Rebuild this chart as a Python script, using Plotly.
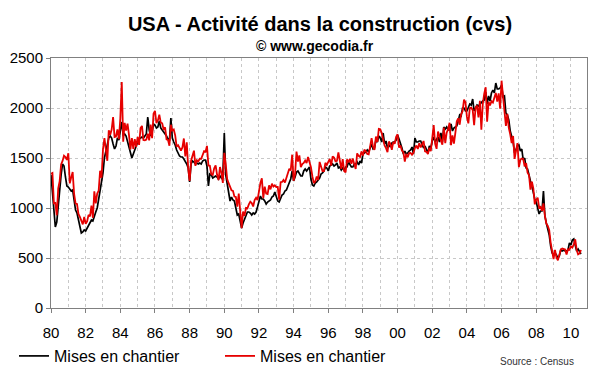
import plotly.graph_objects as go

# Monthly values (thousands, SAAR), Jan 1980 - Aug 2010, listed by year
years = list(range(1980, 2011))

black_by_year = [
    [1330, 1180, 1000, 810, 860, 1030, 1190, 1330, 1440, 1420, 1310, 1220],
    [1210, 1190, 1170, 1180, 1060, 980, 950, 880, 820, 750, 760, 780],
    [770, 800, 830, 850, 880, 870, 930, 960, 1000, 1080, 1150, 1260],
    [1350, 1500, 1560, 1620, 1700, 1720, 1700, 1640, 1590, 1620, 1700, 1680],
    [1780, 1860, 1730, 1740, 1720, 1660, 1600, 1560, 1500, 1540, 1580, 1640],
    [1660, 1690, 1700, 1710, 1700, 1720, 1740, 1910, 1780, 1720, 1760, 1840],
    [1830, 1800, 1810, 1870, 1800, 1780, 1760, 1750, 1720, 1690, 1670, 1900],
    [1700, 1660, 1630, 1580, 1540, 1520, 1510, 1510, 1490, 1470, 1440, 1400],
    [1260, 1440, 1470, 1460, 1440, 1450, 1440, 1450, 1440, 1470, 1480, 1480],
    [1420, 1220, 1340, 1330, 1300, 1310, 1320, 1310, 1290, 1320, 1300, 1330],
    [1750, 1330, 1250, 1140, 1070, 1110, 1080, 1070, 980, 930, 940, 860],
    [800, 850, 890, 920, 960, 960, 950, 930, 950, 940, 960, 1010],
    [1060, 1120, 1090, 1090, 1070, 1040, 1060, 1070, 1080, 1110, 1120, 1160],
    [1120, 1070, 1060, 1100, 1130, 1140, 1170, 1180, 1220, 1270, 1290, 1370],
    [1270, 1310, 1360, 1370, 1350, 1320, 1320, 1370, 1390, 1370, 1390, 1410],
    [1290, 1230, 1220, 1250, 1260, 1280, 1300, 1340, 1350, 1370, 1410, 1400],
    [1370, 1420, 1430, 1440, 1420, 1430, 1450, 1400, 1410, 1380, 1400, 1380],
    [1410, 1410, 1460, 1430, 1410, 1410, 1440, 1440, 1460, 1430, 1470, 1450],
    [1540, 1550, 1560, 1580, 1560, 1600, 1640, 1590, 1600, 1680, 1660, 1720],
    [1700, 1660, 1750, 1640, 1670, 1600, 1630, 1610, 1650, 1660, 1660, 1680],
    [1730, 1690, 1650, 1600, 1540, 1570, 1540, 1550, 1570, 1580, 1610, 1540],
    [1700, 1660, 1660, 1670, 1670, 1630, 1600, 1620, 1580, 1550, 1620, 1600],
    [1670, 1710, 1660, 1680, 1710, 1660, 1750, 1660, 1810, 1790, 1810, 1780],
    [1780, 1840, 1770, 1800, 1810, 1820, 1870, 1930, 1920, 2000, 2000, 1970],
    [1970, 2010, 2040, 2030, 2090, 1970, 2010, 2030, 2020, 2040, 2050, 2070],
    [2080, 2160, 2040, 2120, 2070, 2150, 2180, 2150, 2250, 2190, 2190, 2200],
    [2230, 2110, 2120, 1950, 1930, 1880, 1770, 1710, 1660, 1550, 1580, 1620],
    [1630, 1570, 1590, 1480, 1500, 1400, 1390, 1320, 1270, 1220, 1150, 1090],
    [1060, 980, 940, 970, 970, 1170, 920, 850, 800, 730, 620, 550],
    [530, 550, 530, 500, 520, 580, 570, 580, 570, 570, 580, 650],
    [630, 680, 690, 610, 570, 590, 570, 540],
]

red_by_year = [
    [1341, 1350, 1047, 1051, 927, 1196, 1269, 1436, 1471, 1523, 1510, 1482],
    [1547, 1246, 1306, 1360, 1140, 1045, 1041, 940, 911, 873, 837, 910],
    [843, 866, 931, 917, 1025, 902, 1166, 1046, 1144, 1173, 1372, 1303],
    [1586, 1699, 1606, 1472, 1776, 1733, 1785, 1910, 1710, 1715, 1785, 1688],
    [1897, 2260, 1663, 1851, 1774, 1843, 1732, 1586, 1698, 1590, 1689, 1612],
    [1711, 1632, 1800, 1821, 1680, 1676, 1684, 1743, 1676, 1834, 1698, 1942],
    [1972, 1848, 1876, 1933, 1854, 1847, 1782, 1807, 1687, 1681, 1623, 1833],
    [1774, 1784, 1726, 1614, 1628, 1594, 1575, 1605, 1695, 1515, 1656, 1400],
    [1271, 1473, 1532, 1573, 1421, 1478, 1467, 1493, 1492, 1522, 1569, 1563],
    [1621, 1425, 1422, 1339, 1331, 1397, 1427, 1332, 1279, 1410, 1351, 1251],
    [1551, 1437, 1289, 1248, 1212, 1177, 1171, 1115, 1110, 1014, 1145, 969],
    [798, 965, 921, 1001, 996, 1036, 1063, 1049, 1015, 1079, 1103, 1079],
    [1176, 1250, 1297, 1099, 1214, 1145, 1139, 1226, 1186, 1244, 1214, 1227],
    [1210, 1210, 1083, 1258, 1260, 1280, 1254, 1300, 1343, 1392, 1376, 1533],
    [1272, 1337, 1564, 1465, 1526, 1409, 1439, 1450, 1474, 1450, 1511, 1455],
    [1407, 1316, 1249, 1267, 1314, 1281, 1461, 1416, 1369, 1369, 1452, 1431],
    [1467, 1491, 1424, 1516, 1504, 1467, 1472, 1557, 1475, 1392, 1489, 1370],
    [1355, 1486, 1457, 1492, 1442, 1494, 1437, 1390, 1546, 1520, 1510, 1566],
    [1525, 1584, 1567, 1540, 1536, 1641, 1698, 1614, 1582, 1715, 1660, 1792],
    [1788, 1749, 1670, 1626, 1598, 1558, 1664, 1641, 1582, 1660, 1642, 1711],
    [1737, 1604, 1626, 1575, 1559, 1463, 1541, 1507, 1549, 1551, 1532, 1551],
    [1600, 1625, 1590, 1649, 1605, 1636, 1670, 1567, 1562, 1540, 1602, 1568],
    [1698, 1829, 1642, 1592, 1764, 1717, 1655, 1633, 1804, 1648, 1753, 1788],
    [1853, 1629, 1726, 1643, 1751, 1867, 1897, 1833, 1939, 1967, 2083, 2057],
    [1911, 1846, 1998, 2003, 1981, 1828, 2002, 2024, 1905, 2072, 1782, 2042],
    [2144, 2207, 1864, 2061, 2025, 2068, 2054, 2095, 2151, 2065, 2147, 1994],
    [2273, 2119, 1969, 1821, 1942, 1802, 1737, 1650, 1720, 1491, 1570, 1649],
    [1409, 1480, 1495, 1490, 1415, 1448, 1354, 1330, 1183, 1264, 1197, 1037],
    [1084, 1103, 1005, 1013, 973, 1046, 923, 844, 820, 777, 652, 560],
    [490, 582, 505, 478, 540, 585, 594, 586, 585, 534, 588, 581],
    [614, 604, 636, 687, 583, 536, 546, 580],
]

tick_years = list(range(1980, 2011, 2))
tick_labels = ["80", "82", "84", "86", "88", "90", "92", "94", "96", "98",
               "00", "02", "04", "06", "08", "10"]

series_names = ["Mises en chantier", "Mises en chantier"]


def to_xy(by_year):
    xs, ys = [], []
    for yr, vals in zip(years, by_year):
        for m, v in enumerate(vals):
            xs.append(yr + m / 12.0)
            ys.append(v)
    return xs, ys


bx, by = to_xy(black_by_year)
rx, ry = to_xy(red_by_year)

FONT = "Arial, Liberation Sans, sans-serif"

fig = go.Figure()
fig.add_trace(go.Scatter(x=bx, y=by, mode="lines", name=series_names[0],
                         line=dict(color="#000000", width=1.7)))
fig.add_trace(go.Scatter(x=rx, y=ry, mode="lines", name=series_names[1],
                         line=dict(color="#e60000", width=1.8)))

fig.update_layout(
    width=600, height=372,
    margin=dict(l=51, r=13, t=58, b=64, autoexpand=False),
    paper_bgcolor="white", plot_bgcolor="white",
    font=dict(family=FONT, color="#000000", size=14),
    title=dict(text="<b>USA - Activité dans la construction (cvs)</b>",
               font=dict(size=20, family=FONT),
               x=320 / 600, xanchor="center", xref="container",
               y=1 - 17 / 372, yanchor="top", yref="container"),
    showlegend=True,
    legend=dict(orientation="h", x=14 / 600, xanchor="left", xref="container",
                y=1 - 356 / 372, yanchor="middle", yref="container",
                font=dict(size=16, family=FONT),
                entrywidth=161, entrywidthmode="pixels",
                bgcolor="rgba(0,0,0,0)", itemclick=False),
    annotations=[
        dict(text="<b>© www.gecodia.fr</b>", xref="paper", yref="paper",
             x=(315 - 51) / 536, y=(308 - 46) / 250, xanchor="center",
             yanchor="middle", showarrow=False,
             font=dict(size=14, family=FONT)),
        dict(text="Source : Census", xref="paper", yref="paper",
             x=(576 - 51) / 536, y=(308 - 361) / 250, xanchor="right",
             yanchor="middle", showarrow=False,
             font=dict(size=10, family=FONT, color="#333333")),
    ],
)

fig.update_xaxes(
    range=[1980, 2010.93], automargin=False,
    tickmode="array", tickvals=tick_years, ticktext=tick_labels,
    ticks="outside", ticklen=4, tickcolor="#808080", ticklabelstandoff=7,
    showline=True, linecolor="#808080", linewidth=1, mirror=True,
    showgrid=True, gridcolor="#c8c8c8", griddash="dot", gridwidth=1,
    minor=dict(dtick=1, tick0=1980, showgrid=True, gridcolor="#c8c8c8",
               griddash="dot", gridwidth=1),
    zeroline=False, tickfont=dict(size=15),
)
fig.update_yaxes(
    range=[0, 2500], dtick=500, automargin=False,
    ticks="outside", ticklen=4, tickcolor="#808080",
    showline=True, linecolor="#808080", linewidth=1, mirror=True,
    showgrid=True, gridcolor="#c8c8c8", griddash="dot", gridwidth=1,
    zeroline=False, tickfont=dict(size=15),
)

fig.write_html("out.html",
               config={"displayModeBar": False, "staticPlot": True},
               post_script="document.body.style.margin='0px';")
